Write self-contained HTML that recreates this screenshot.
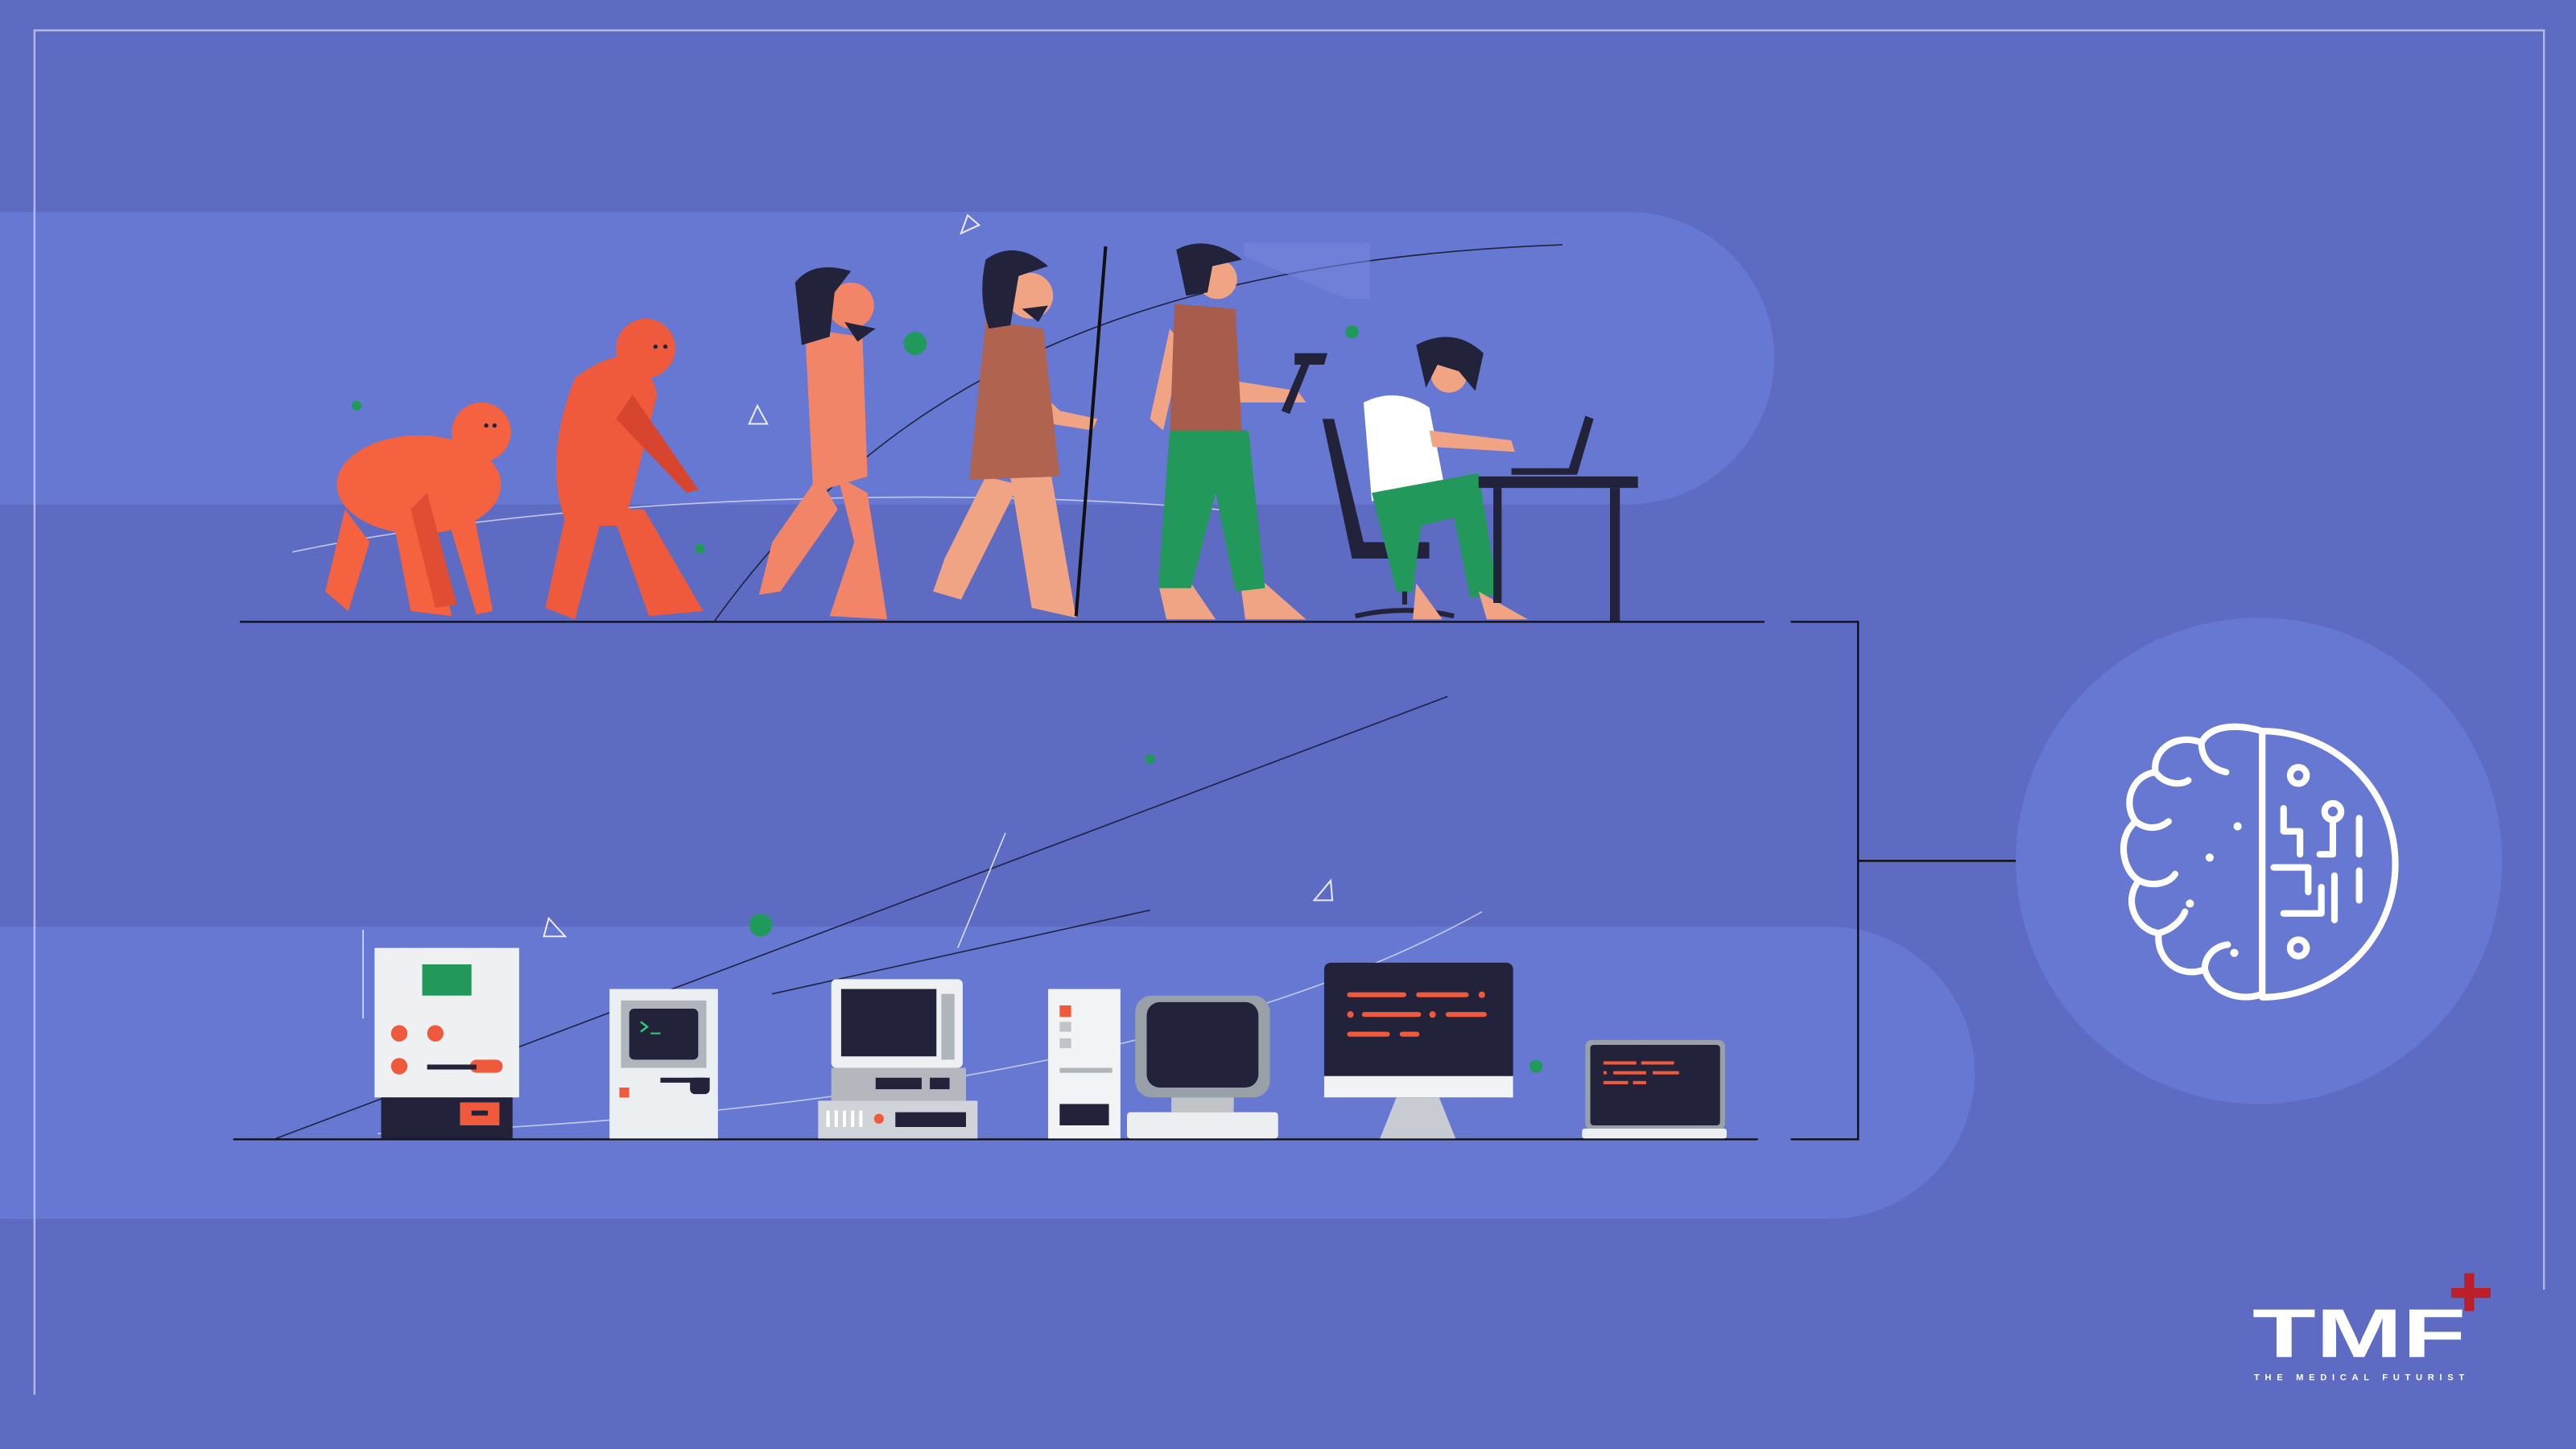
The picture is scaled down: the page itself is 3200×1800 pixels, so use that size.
<!DOCTYPE html>
<html><head><meta charset="utf-8"><style>
html,body{margin:0;padding:0;background:#5e6bc2;}
svg{display:block}
</style></head><body>
<svg width="3200" height="1800" viewBox="0 0 1568 882" xmlns="http://www.w3.org/2000/svg">
<rect width="1568" height="882" fill="#5e6bc2"/>
<path d="M0,129 H991 A89,89 0 0 1 991,307 H0 Z" fill="#6778d2"/>
<path d="M0,564 H1113 A89,89 0 0 1 1113,742 H0 Z" fill="#6778d2"/>
<path d="M21,849 V18.5 H1548.5 V785" fill="none" stroke="#c8cdf0" stroke-width="1.2" opacity="0.8"/>
<path d="M435,378 C520,260 650,160 951,149" fill="none" stroke="#1f2340" stroke-width="0.8"/>
<line x1="168" y1="693" x2="881" y2="424" stroke="#1f2340" stroke-width="0.8"/>
<line x1="470" y1="605" x2="700" y2="554" stroke="#1f2340" stroke-width="0.8"/>
<path d="M178,336 C350,300 600,295 760,312" fill="none" stroke="#d8dcf5" stroke-width="0.8" opacity="0.8"/>
<path d="M230,690 C500,680 750,640 902,555" fill="none" stroke="#d8dcf5" stroke-width="0.8" opacity="0.8"/>
<line x1="612" y1="507" x2="583" y2="577" stroke="#d8dcf5" stroke-width="0.8"/>
<line x1="221" y1="566" x2="221" y2="620" stroke="#d8dcf5" stroke-width="0.8"/>
<path d="M757,148 H834 V182 H820 L757,156Z" fill="#7686dd" opacity="0.6"/>
<g fill="#1f9a5a"><circle cx="217" cy="247" r="3"/><circle cx="557" cy="209" r="7"/><circle cx="823" cy="202" r="4"/><circle cx="426" cy="334" r="3"/><circle cx="700" cy="462" r="3"/><circle cx="463" cy="563" r="7"/><circle cx="935" cy="649" r="4"/></g>
<g fill="none" stroke="#e8eaf8" stroke-width="1"><path d="M585,142 L596,137 L589,131Z"/><path d="M456,258 L467,258 L461,247Z"/><path d="M331,570 L344,570 L334,559Z"/><path d="M800,548 L811,548 L810,536Z"/></g>
<line x1="146" y1="378.5" x2="1074" y2="378.5" stroke="#111" stroke-width="1.2"/>
<line x1="142" y1="693.5" x2="1070" y2="693.5" stroke="#111" stroke-width="1.2"/>
<path d="M1090,378.5 H1131 V693.5 H1090 M1131,524 H1251" fill="none" stroke="#111" stroke-width="1.2"/>
<!-- ape 1 -->
<g fill="#f4623f">
<ellipse cx="255" cy="295" rx="50" ry="30"/>
<circle cx="293" cy="263" r="18"/>
<path d="M210,310 L198,360 L212,372 L225,330Z"/>
<path d="M240,320 L250,372 L275,375 L262,318Z"/>
<path d="M282,280 L300,372 L290,374 L268,300Z"/>
</g>
<g fill="#e04d33"><path d="M260,300 L278,368 L265,370 L250,310Z"/></g>
<g fill="#22223a"><circle cx="296" cy="259" r="1.3"/><circle cx="301" cy="259" r="1.3"/></g>
<!-- ape 2 -->
<g fill="#f05a3c">
<circle cx="393" cy="212" r="18"/>
<path d="M350,230 Q390,200 400,240 L380,320 L345,320 Q330,280 350,230Z"/>
<path d="M345,310 L332,370 L350,377 L365,320Z"/>
<path d="M372,310 L395,375 L428,372 L392,310Z"/>
</g>
<path d="M385,240 L425,298 L418,300 L375,255Z" fill="#d8452e"/>
<g fill="#22223a"><circle cx="399" cy="211" r="1.3"/><circle cx="405" cy="211" r="1.3"/></g>
<!-- human 3 -->
<g fill="#f28467">
<circle cx="518" cy="186" r="14"/>
<path d="M490,200 L525,205 L528,290 L495,300 Z"/>
<path d="M498,290 L470,330 L462,362 L475,360 L510,310Z"/>
<path d="M510,290 L520,330 L505,375 L540,377 L528,300Z"/>
</g>
<path d="M484,172 Q495,158 518,165 L508,178 L505,205 L488,210Z" fill="#22223a"/>
<path d="M514,196 L533,200 L522,208Z" fill="#22223a"/>
<!-- caveman 4 -->
<g fill="#f1a483">
<circle cx="627" cy="180" r="14"/>
<path d="M600,290 L575,340 L568,360 L585,365 L620,295Z"/>
<path d="M615,290 L628,370 L655,376 L640,290Z"/>
<path d="M625,230 L645,250 L668,255 L665,262 L640,258 L620,240Z"/>
</g>
<path d="M600,195 L635,200 L645,290 L590,292 Z" fill="#b0644f"/>
<path d="M600,158 Q618,145 638,162 L620,168 L615,198 L602,200 Q595,180 600,158Z" fill="#22223a"/>
<path d="M622,188 L638,186 L632,196Z" fill="#22223a"/>
<line x1="673" y1="150" x2="655" y2="375" stroke="#111" stroke-width="2"/>
<!-- man 5 -->
<g fill="#f1a483">
<circle cx="741" cy="170" r="12"/>
<path d="M712,200 L700,255 L708,262 L720,210Z"/>
<path d="M740,230 L790,238 L795,245 L745,245Z"/>
<path d="M705,355 L710,377 L740,377 L725,355Z"/>
<path d="M755,355 L758,377 L795,377 L770,355Z"/>
</g>
<path d="M715,185 L752,188 L756,265 L712,268Z" fill="#a85c4b"/>
<path d="M712,262 L760,262 L770,358 L752,360 L740,300 L725,358 L705,358Z" fill="#22995a"/>
<path d="M716,152 Q735,142 756,158 L738,162 L735,178 L722,180Z" fill="#22223a"/>
<path d="M788,215 L808,215 L806,222 L797,222 L785,252 L780,250 L792,222 L788,222Z" fill="#22223a"/>
<!-- desk man -->
<path d="M805,255 L812,255 L830,330 L870,330 L870,340 L823,340Z" fill="#22223a"/>
<path d="M855,340 V368 M825,375 Q855,368 885,375" stroke="#22223a" stroke-width="3" fill="none"/>
<path d="M830,245 Q850,235 870,248 L880,300 L835,305 Z" fill="#fff"/>
<circle cx="882" cy="228" r="11" fill="#f1a483"/>
<path d="M862,210 Q885,198 903,215 L898,238 L888,226 L875,222 L868,236Z" fill="#22223a"/>
<path d="M870,262 L920,268 L922,275 L872,272Z" fill="#f1a483"/>
<path d="M835,300 L900,288 L912,362 L895,364 L885,315 L865,320 L860,360 L850,360 L840,320Z" fill="#22995a"/>
<path d="M862,355 L860,377 L878,377 Z M900,360 L905,377 L930,377Z" fill="#f1a483"/>
<rect x="900" y="290" width="97" height="7" fill="#22223a"/>
<rect x="980" y="297" width="6" height="81" fill="#22223a"/>
<rect x="909" y="297" width="5" height="70" fill="#22223a"/>
<path d="M920,285 L955,285 L965,253 L970,255 L960,289 L920,289Z" fill="#22223a"/>
<!-- computer 1 -->
<rect x="228" y="577" width="88" height="91" fill="#eef0f2"/>
<rect x="257" y="587" width="30" height="19" fill="#22995a"/>
<g fill="#f05a3c"><circle cx="243" cy="629" r="5"/><circle cx="265" cy="629" r="5"/><circle cx="243" cy="649" r="5"/><rect x="286" y="645" width="20" height="8" rx="4"/></g>
<rect x="260" y="648" width="30" height="3" fill="#22223a"/>
<rect x="232" y="668" width="80" height="25" fill="#22223a"/>
<rect x="280" y="671" width="24" height="14" fill="#f05a3c"/><rect x="287" y="676" width="10" height="3" fill="#22223a"/>
<!-- computer 2 -->
<rect x="371" y="602" width="66" height="91" fill="#eceff1"/>
<rect x="378" y="609" width="52" height="41" fill="#b0b4bb"/>
<rect x="383" y="614" width="42" height="31" rx="3" fill="#22223a"/>
<path d="M390,622 l4,3 -4,3" stroke="#2bd07a" fill="none" stroke-width="1.2"/><line x1="396" y1="629" x2="402" y2="629" stroke="#2bd07a"/>
<rect x="377" y="662" width="6" height="6" fill="#f05a3c"/>
<rect x="402" y="656" width="30" height="3" fill="#22223a"/><rect x="420" y="656" width="12" height="10" rx="3" fill="#22223a"/>
<!-- computer 3 -->
<rect x="506" y="596" width="80" height="54" rx="3" fill="#eef0f2"/>
<rect x="512" y="602" width="58" height="41" fill="#22223a"/>
<rect x="573" y="605" width="8" height="40" fill="#b0b4bb"/>
<rect x="506" y="650" width="82" height="20" fill="#b4b8be"/>
<rect x="533" y="656" width="28" height="7" fill="#22223a"/><rect x="566" y="656" width="12" height="7" fill="#22223a"/>
<rect x="498" y="670" width="97" height="23" fill="#d0d3d8"/>
<rect x="545" y="677" width="43" height="9" fill="#22223a"/><circle cx="535" cy="681" r="3" fill="#f05a3c"/>
<g fill="#fff"><rect x="503" y="676" width="2" height="10"/><rect x="508" y="676" width="2" height="10"/><rect x="513" y="676" width="2" height="10"/><rect x="518" y="676" width="2" height="10"/><rect x="523" y="676" width="2" height="10"/></g>
<!-- computer 4 -->
<rect x="638" y="602" width="44" height="91" fill="#f2f3f5"/>
<rect x="645" y="612" width="7" height="7" fill="#f05a3c"/><rect x="645" y="622" width="7" height="6" fill="#c0c3c8"/><rect x="645" y="632" width="7" height="6" fill="#c0c3c8"/>
<rect x="645" y="650" width="32" height="3" fill="#b0b4bb"/><rect x="645" y="672" width="30" height="13" fill="#22223a"/>
<rect x="691" y="606" width="82" height="62" rx="10" fill="#9aa0a8"/>
<rect x="698" y="610" width="68" height="52" rx="8" fill="#22223a"/>
<rect x="686" y="677" width="92" height="16" rx="2" fill="#eceef1"/><rect x="713" y="668" width="38" height="9" fill="#c0c3c8"/>
<!-- computer 5 -->
<rect x="806" y="586" width="115" height="82" rx="4" fill="#22223a"/>
<rect x="806" y="655" width="115" height="13" fill="#f2f3f5"/>
<path d="M850,668 H876 L886,693 H840Z" fill="#c8ccd2"/>
<g fill="#f05a3c"><rect x="820" y="604" width="36" height="3" rx="1.5"/><rect x="862" y="604" width="32" height="3" rx="1.5"/><circle cx="902" cy="605.5" r="2"/><circle cx="822" cy="617.5" r="2"/><rect x="829" y="616" width="36" height="3" rx="1.5"/><circle cx="872" cy="617.5" r="2"/><rect x="880" y="616" width="25" height="3" rx="1.5"/><rect x="820" y="628" width="26" height="3" rx="1.5"/><rect x="852" y="628" width="12" height="3" rx="1.5"/></g>
<!-- computer 6 -->
<rect x="965" y="633" width="85" height="55" rx="4" fill="#9aa0a8"/>
<rect x="968" y="636" width="79" height="49" rx="2" fill="#22223a"/>
<rect x="963" y="687" width="88" height="6" rx="1.5" fill="#eceef1"/>
<g fill="#f05a3c"><rect x="976" y="646" width="20" height="2"/><rect x="999" y="646" width="20" height="2"/><rect x="976" y="652" width="2" height="2"/><rect x="982" y="652" width="20" height="2"/><rect x="1006" y="652" width="16" height="2"/><rect x="976" y="658" width="15" height="2"/><rect x="994" y="658" width="8" height="2"/></g>
<!-- brain circle -->
<circle cx="1375" cy="524" r="148" fill="#6778d2"/>
<g fill="none" stroke="#fff" stroke-width="4" stroke-linecap="round" stroke-linejoin="round">
<path d="M1377,445 A81,81 0 0 1 1377,607 Z"/>
<path d="M1377,445 C1360,440 1345,442 1340,452 C1325,446 1310,456 1312,470 C1297,472 1292,490 1300,500 C1288,510 1292,530 1302,536 C1292,548 1300,566 1314,568 C1312,585 1328,596 1342,590 C1346,605 1365,610 1377,605"/>
<path d="M1340,452 C1340,462 1346,468 1355,470 M1312,470 C1318,478 1328,478 1332,475 M1300,500 C1306,505 1314,505 1320,500 M1302,536 C1310,540 1320,538 1324,532 M1314,568 C1322,566 1328,560 1330,555 M1342,590 C1342,582 1348,576 1356,575"/>
<circle cx="1399" cy="472" r="5"/><circle cx="1399" cy="577" r="5"/><circle cx="1420" cy="494" r="5"/>
<path d="M1390,492 V506 H1400 V520 M1384,528 H1405 V543 M1390,556 H1413 V540 M1420,499 V520 H1412 M1436,498 V520 M1436,530 V548 M1421,533 V560"/>
</g>
<g fill="#fff"><circle cx="1345" cy="522" r="2.5"/><circle cx="1362" cy="503" r="2.5"/><circle cx="1333" cy="550" r="2.5"/><circle cx="1360" cy="580" r="2.5"/></g>
<!-- logo -->
<rect x="1500" y="775" width="6" height="23" fill="#bb1f27"/><rect x="1492" y="784" width="24" height="6" fill="#bb1f27"/>
<text x="1371" y="826" font-family="Liberation Sans, sans-serif" font-weight="bold" font-size="42" fill="#fff" textLength="130" lengthAdjust="spacingAndGlyphs">TMF</text>
<text x="1372" y="840" font-family="Liberation Sans, sans-serif" font-weight="bold" font-size="5.5" fill="#fff" textLength="128" lengthAdjust="spacing">THE MEDICAL FUTURIST</text>
</svg>
</body></html>
